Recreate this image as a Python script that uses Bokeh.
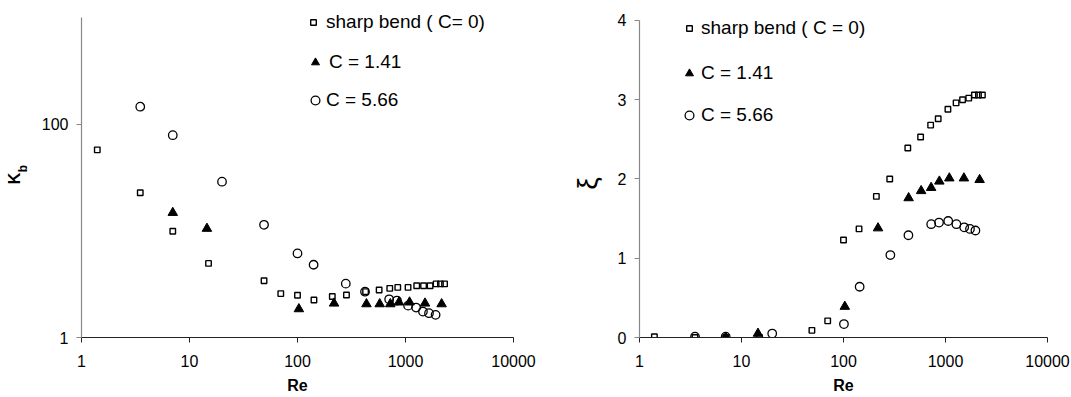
from math import pi
from bokeh.plotting import figure
from bokeh.layouts import row
from bokeh.models import (FixedTicker, Legend, LegendItem,
                          BasicTickFormatter, Range1d)
from bokeh.core.properties import value
from bokeh.embed import file_html
from bokeh.resources import INLINE

# ---------------- data ----------------
re_ticks = [1, 10, 100, 1000, 10000]
kb_ticks = [1, 100]
xi_ticks = [0, 1, 2, 3, 4]

# sharp bend (C = 0)
re_sharp = [1.4, 3.5, 7, 15, 49, 70, 100, 142, 210, 284, 427, 570, 715, 848,
            1056, 1270, 1470, 1690, 1920, 2105, 2300]
kb_sharp = [57.5, 22.8, 9.9, 4.95, 3.41, 2.58, 2.49, 2.25, 2.42, 2.5, 2.69,
            2.79, 2.89, 2.95, 2.95, 3.06, 3.06, 3.06, 3.18, 3.18, 3.18]
xi_sharp = [0.01, 0.0, 0.0, 0.0, 0.09, 0.21, 1.23, 1.37, 1.78, 2.0, 2.39,
            2.53, 2.68, 2.76, 2.88, 2.96, 3.0, 3.02, 3.06, 3.06, 3.06]

# C = 1.41
re_c141 = [7, 14.5, 103, 218, 435, 577, 723, 870, 1090, 1515, 2160]
kb_c141 = [14.8, 10.5, 1.85, 2.09, 2.06, 2.06, 2.06, 2.14, 2.14, 2.09, 2.06]
xi_c141 = [0.0, 0.05, 0.39, 1.38, 1.76, 1.85, 1.89, 1.97, 2.01, 2.01, 1.99]

# C = 5.66
re_c566_kb = [3.5, 7, 20, 49, 100, 141, 280, 422, 706, 833, 1057, 1253,
              1450, 1650, 1900]
kb_c566 = [146, 78.9, 28.9, 11.4, 6.14, 4.81, 3.2, 2.69, 2.28, 2.22, 1.99,
           1.91, 1.75, 1.69, 1.63]
re_c566_xi = [3.5, 7, 20, 101, 144, 288, 433, 724, 864, 1063, 1279, 1525,
              1738, 1965]
xi_c566 = [0.01, 0.01, 0.05, 0.17, 0.64, 1.04, 1.29, 1.43, 1.45, 1.47, 1.43,
           1.39, 1.37, 1.35]

labels_left = ["sharp bend ( C= 0)", "C = 1.41", "C = 5.66"]
labels_right = ["sharp bend ( C = 0)", "C = 1.41", "C = 5.66"]
ylabel_left = ("K", "b")
ylabel_right = "ξ"

FONT = "Liberation Sans"
H = 397
TOP = 8
BOTTOM = 60


def style(p, yticks, ybounds):
    p.xgrid.grid_line_color = None
    p.ygrid.grid_line_color = None
    p.outline_line_color = None
    p.background_fill_color = "white"
    p.border_fill_color = "white"
    xa = p.xaxis[0]
    xa.ticker = FixedTicker(ticks=re_ticks)
    xa.formatter = BasicTickFormatter()
    xa.axis_line_color = "#222222"
    xa.axis_line_width = 1.2
    xa.major_tick_line_color = "#222222"
    xa.major_tick_out = 5
    xa.major_tick_in = 0
    xa.minor_tick_line_color = None
    xa.major_label_text_font = FONT
    xa.major_label_text_font_size = "16px"
    xa.major_label_text_color = "black"
    xa.major_label_standoff = 12
    xa.axis_label = "Re"
    xa.axis_label_text_font = FONT
    xa.axis_label_text_font_style = "bold"
    xa.axis_label_text_font_size = "16px"
    xa.axis_label_text_color = "black"
    xa.axis_label_standoff = 7

    ya = p.yaxis[0]
    ya.ticker = FixedTicker(ticks=yticks)
    ya.formatter = BasicTickFormatter()
    ya.bounds = ybounds
    ya.axis_line_color = "#888888"
    ya.axis_line_width = 1.2
    ya.major_tick_line_color = "#888888"
    ya.major_tick_out = 5
    ya.major_tick_in = 0
    ya.minor_tick_line_color = None
    ya.major_label_text_font = FONT
    ya.major_label_text_font_size = "16px"
    ya.major_label_text_color = "black"
    ya.major_label_standoff = 8


def add_series(p, xs_sq, ys_sq, xs_tr, ys_tr, xs_ci, ys_ci):
    r_sq = p.scatter(xs_sq, ys_sq, marker="square", size=5.5, fill_alpha=0,
                     line_color="black", line_width=1.4)
    r_tr = p.scatter(xs_tr, ys_tr, marker="triangle", size=9.5,
                     fill_color="black", line_color="black", line_width=1)
    r_ci = p.scatter(xs_ci, ys_ci, marker="circle", size=8.5, fill_alpha=0,
                     line_color="black", line_width=1.3)
    return r_sq, r_tr, r_ci


def add_legend_row(p, renderer, text, vx, vy, gw, standoff):
    lg = Legend(items=[LegendItem(label=text, renderers=[renderer])],
                location=(vx, vy), orientation="vertical",
                border_line_color=None, background_fill_alpha=0,
                padding=0, margin=0, spacing=0,
                glyph_width=gw, glyph_height=26, label_height=26,
                label_standoff=standoff,
                label_text_font=FONT, label_text_font_size="19px",
                label_text_color="black")
    p.add_layout(lg)


def text_panel(x0, x1):
    # a plain panel (no axes) whose data coordinates equal page pixels
    t = figure(width=x1 - x0, height=H, x_range=Range1d(x0, x1),
               y_range=Range1d(H - BOTTOM, TOP),
               min_border_left=0, min_border_right=0,
               min_border_top=TOP, min_border_bottom=BOTTOM,
               x_axis_location=None, y_axis_location=None,
               output_backend="svg", toolbar_location=None)
    t.xgrid.grid_line_color = None
    t.ygrid.grid_line_color = None
    t.outline_line_color = None
    t.background_fill_color = "white"
    t.border_fill_color = "white"
    return t


# ---------------- y-label panel for K_b ----------------
kfig = text_panel(0, 30)
kfig.text(x=[13.5], y=[178], text=[ylabel_left[0]], angle=pi / 2,
          text_align="center", text_baseline="middle",
          text_font=value(FONT), text_font_style="bold",
          text_font_size="16px", text_color="black")
kfig.text(x=[22], y=[168], text=[ylabel_left[1]], angle=pi / 2,
          text_align="center", text_baseline="middle",
          text_font=value(FONT), text_font_style="bold",
          text_font_size="12px", text_color="black")

# ---------------- left panel: K_b ----------------
p1 = figure(x_axis_type="log", y_axis_type="log",
            x_range=Range1d(1, 10000), y_range=Range1d(1, 1216),
            width=510, height=H,
            min_border_left=51, min_border_right=27,
            min_border_top=TOP, min_border_bottom=BOTTOM,
            output_backend="svg", toolbar_location=None)
style(p1, kb_ticks, (1, 1000))
s1, t1, c1 = add_series(p1, re_sharp, kb_sharp, re_c141, kb_c141,
                        re_c566_kb, kb_c566)
add_legend_row(p1, s1, labels_left[0], 225, 302, 14, 6)
add_legend_row(p1, t1, labels_left[1], 224, 262, 20, 4)
add_legend_row(p1, c1, labels_left[2], 223, 224, 22, 0)

# ---------------- y-label panel for xi ----------------
xfig = text_panel(540, 608)
xfig.text(x=[587], y=[183], text=[ylabel_right], angle=pi / 2,
          text_align="center", text_baseline="middle",
          text_font=value(FONT), text_font_size="28px", text_color="black")

# ---------------- right panel: xi ----------------
p2 = figure(x_axis_type="log",
            x_range=Range1d(1, 10000), y_range=Range1d(0, 4.151),
            width=463, height=H,
            min_border_left=31, min_border_right=24,
            min_border_top=TOP, min_border_bottom=BOTTOM,
            output_backend="svg", toolbar_location=None)
style(p2, xi_ticks, (0, 4))
s2, t2, c2 = add_series(p2, re_sharp, xi_sharp, re_c141, xi_c141,
                        re_c566_xi, xi_c566)
add_legend_row(p2, s2, labels_right[0], 43, 296, 14, 5)
add_legend_row(p2, t2, labels_right[1], 40, 251, 20, 2)
add_legend_row(p2, c2, labels_right[2], 39, 209, 22, 1)

layout = row(kfig, p1, xfig, p2, spacing=0)
open("out.html", "w").write(file_html(layout, INLINE))
